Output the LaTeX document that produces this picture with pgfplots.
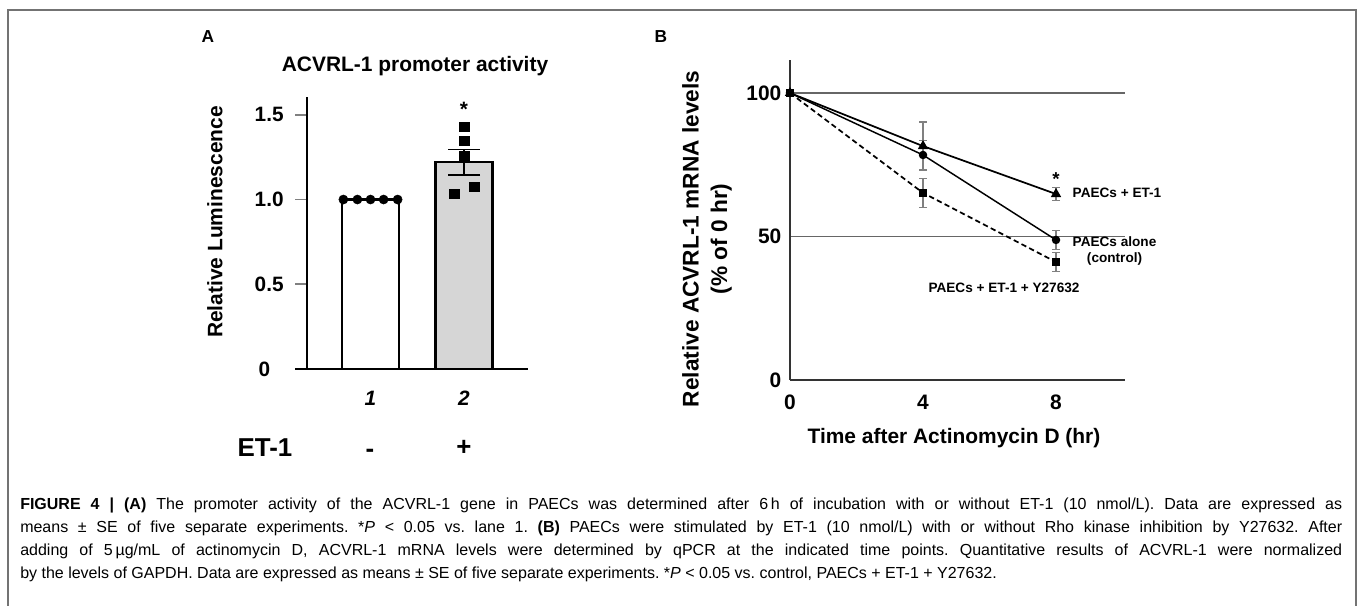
\documentclass[border=0pt]{standalone}
\usepackage{pgfplots}
\pgfplotsset{compat=1.18}
\usepackage{fontspec}
\setmainfont{Liberation Sans}
\frenchspacing
\newcommand{\fs}[1]{\fontsize{#1}{1.2\dimexpr#1pt\relax}\selectfont}
\begin{document}
\begin{tikzpicture}
\path[use as bounding box, fill=white] (0pt,0pt) rectangle (1020pt,454.5pt);

% ---- panel A   (1 px of the reference = 0.75pt)
\begin{axis}[
  at={(230.25pt,177.75pt)}, anchor=south west,
  scale only axis, width=165.75pt, height=204pt,
  xmin=0.321, xmax=2.684, ymin=0, ymax=1.605,
  axis lines*=left, axis line style={line width=1.3pt},
  clip=false,
  xtick={1,2}, xticklabels={\textit{1},\textit{2}},
  xtick style={draw=none},
  ytick={0.5,1,1.5}, yticklabels={0.5,1.0,1.5},
  tick align=outside, major tick length=9pt,
  ytick style={line width=1.3pt},
  tick label style={font=\fs{15.6}\bfseries},
  xticklabel style={yshift=-4pt},
  yticklabel style={xshift=-5pt},
]
\draw[line width=1.3pt] (axis cs:0.321,0) -- ([xshift=-9pt]axis cs:0.321,0);
\node[font=\fs{15.6}\bfseries, anchor=east] at ([xshift=-24pt]axis cs:0.321,0) {0};
\addplot[ybar, bar width=0.61, fill=white, draw=black, line width=1.6pt]
  coordinates {(1,1)};
\addplot[ybar, bar width=0.61, fill=black!16, draw=black, line width=1.6pt,
  error bars/.cd, y dir=both, y explicit,
  error bar style={line width=1.2pt},
  error mark options={rotate=90, mark size=12pt, line width=1.2pt}]
  coordinates {(2,1.22) +- (0,0.075)};
\addplot[only marks, mark=*, mark size=3.4pt, black]
  coordinates {(0.71,1) (0.86,1) (1.0,1) (1.14,1) (1.29,1)};
\addplot[only marks, mark=square*, mark size=3.6pt, black]
  coordinates {(2,1.43) (2,1.347) (2,1.259) (1.893,1.035) (2.107,1.076)};
\end{axis}

% ---- panel B
\begin{axis}[
  at={(592.5pt,169.5pt)}, anchor=south west,
  scale only axis, width=251.25pt, height=240pt,
  xmin=0, xmax=10.075, ymin=0, ymax=111.5,
  axis lines*=left, axis line style={line width=1pt, black!80},
  clip=false,
  xtick={0,4,8}, xticklabels={0,4,8},
  ytick={0,50,100}, yticklabels={0,50,100},
  major tick length=0pt,
  ymajorgrids, grid style={black!60, line width=1pt},
  tick label style={font=\fs{15.7}\bfseries},
  xticklabel style={yshift=-8pt},
  yticklabel style={xshift=-3pt},
]
% error bars
\addplot[only marks, mark=none, black!50, error bars/.cd, y dir=both, y explicit,
  error bar style={black!50, line width=0.8pt},
  error mark options={rotate=90, mark size=3pt, black!50, line width=0.8pt}]
  coordinates {(4,81.5) +- (0,8.4) (8,64.8) +- (0,2.4)};
\addplot[only marks, mark=none, black!50, error bars/.cd, y dir=both, y explicit,
  error bar style={black!50, line width=0.8pt},
  error mark options={rotate=90, mark size=3pt, black!50, line width=0.8pt}]
  coordinates {(4,78.4) +- (0,5.2) (8,48.8) +- (0,3.2)};
\addplot[only marks, mark=none, black!50, error bars/.cd, y dir=both, y explicit,
  error bar style={black!50, line width=0.8pt},
  error mark options={rotate=90, mark size=3pt, black!50, line width=0.8pt}]
  coordinates {(4,65.2) +- (0,5) (8,41.1) +- (0,3.2)};
% PAECs + ET-1 + Y27632
\addplot[black, line width=1.3pt, dash pattern=on 4pt off 2.5pt, mark=square*, mark size=2.4pt, mark options={solid}]
  coordinates {(0,100) (4,65.2) (8,41.1)};
% PAECs + ET-1
\addplot[black, line width=1.3pt, mark=triangle*, mark size=3.2pt]
  coordinates {(0,100) (4,81.5) (8,64.8)};
% PAECs alone
\addplot[black, line width=1.1pt, mark=*, mark size=2.6pt]
  coordinates {(0,100) (4,78.4) (8,48.8)};
\end{axis}

% ---- everything else, in px measured from the top
\begin{scope}[shift={(0pt,454.5pt)}, x=0.75pt, y=-0.75pt]
\draw[black!55, line width=1.5pt] (8,606) -- (8,10) -- (1356,10) -- (1356,606);

\node[font=\fs{13}\bfseries] at (208,37) {A};
\node[font=\fs{15.7}\bfseries] at (415,66) {ACVRL-1 promoter activity};
\node[font=\fs{15.7}\bfseries, rotate=90] at (215,222) {Relative Luminescence};
\node[font=\fs{15.6}\bfseries, anchor=base] at (464,117) {*};
\node[font=\fs{19.4}\bfseries] at (265,448) {ET-1};
\node[font=\fs{19.4}\bfseries] at (370,453) {-};
\node[font=\fs{19.4}\bfseries] at (464,448) {+};

\node[font=\fs{13}\bfseries] at (661,37) {B};
\node[font=\fontsize{17}{21.5}\selectfont\bfseries, rotate=90, align=center] at (707,239)
  {Relative ACVRL-1 mRNA levels\\(\% of 0 hr)};
\node[font=\fs{15.7}\bfseries] at (954,438) {Time after Actinomycin D (hr)};
\node[font=\fs{14}\bfseries, anchor=base] at (1056,186) {*};
\node[font=\fs{10.2}\bfseries, anchor=west] at (1068,193) {PAECs + ET-1};
\node[font=\fs{10.2}\bfseries, anchor=west, align=center] at (1068,251) {PAECs alone\\(control)};
\node[font=\fs{10.2}\bfseries] at (1004,288) {PAECs + ET-1 + Y27632};

\begin{scope}[font=\fs{12}]
\node[anchor=base west, inner sep=0] at (20,510) {\hbox to 991.5pt{\textbf{FIGURE 4 | (A)} The promoter activity of the ACVRL-1 gene in PAECs was determined after 6\,h of incubation with or without ET-1 (10 nmol/L). Data are expressed as}};
\node[anchor=base west, inner sep=0] at (20,533) {\hbox to 991.5pt{means ± SE of five separate experiments. *\textit{P} < 0.05 vs. lane 1. \textbf{(B)} PAECs were stimulated by ET-1 (10 nmol/L) with or without Rho kinase inhibition by Y27632. After}};
\node[anchor=base west, inner sep=0] at (20,556) {\hbox to 991.5pt{adding of 5\,µg/mL of actinomycin D, ACVRL-1 mRNA levels were determined by qPCR at the indicated time points. Quantitative results of ACVRL-1 were normalized}};
\node[anchor=base west, inner sep=0] at (20,579) {by the levels of GAPDH. Data are expressed as means ± SE of five separate experiments. *\textit{P} < 0.05 vs. control, PAECs + ET-1 + Y27632.};
\end{scope}
\end{scope}
\end{tikzpicture}
\end{document}
